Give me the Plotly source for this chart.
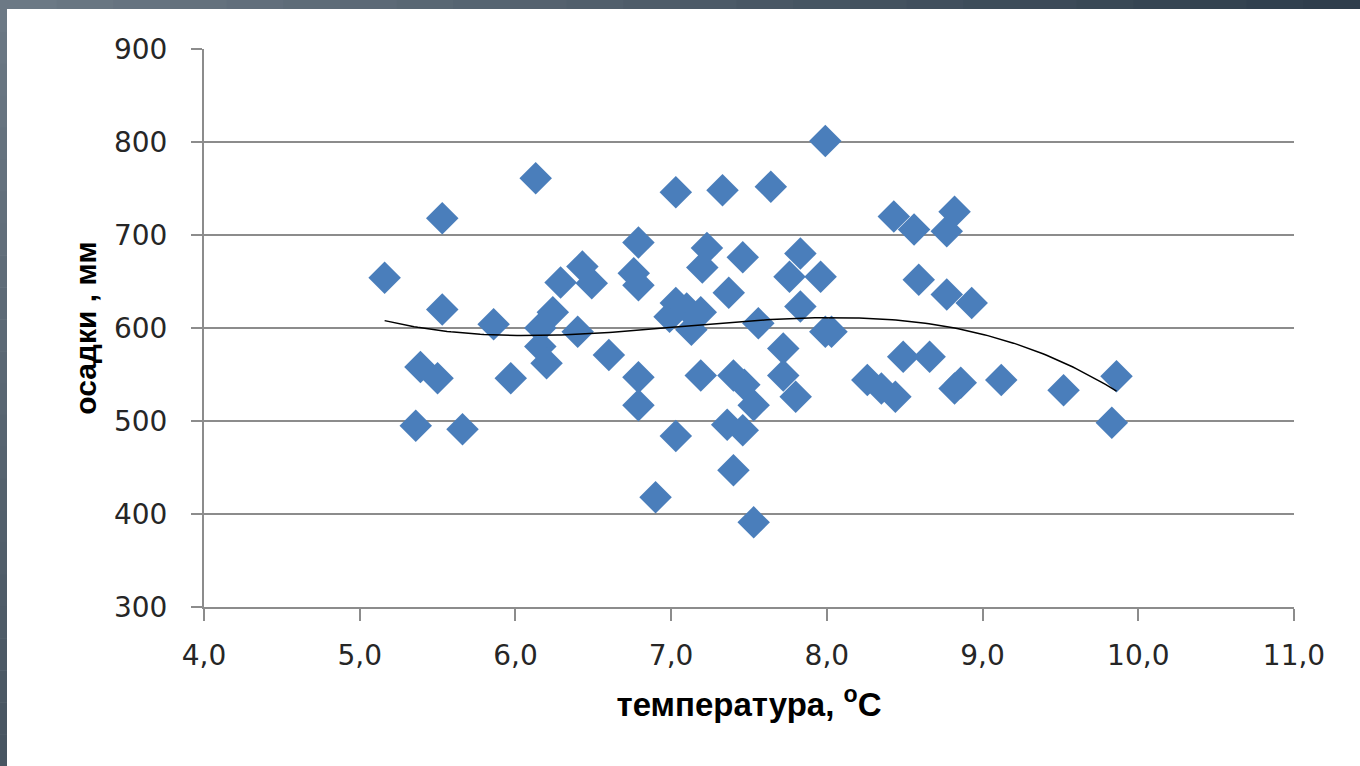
import numpy as np
import plotly.graph_objects as go

# temperature (°C) and precipitation (mm)
temperature = [5.16, 5.36, 5.39, 5.50, 5.53, 5.53, 5.66, 5.86, 5.97, 6.13,
               6.16, 6.16, 6.20, 6.24, 6.29, 6.40, 6.43, 6.49, 6.60, 6.76,
               6.79, 6.79, 6.79, 6.79, 6.90, 6.99, 7.03, 7.03, 7.03, 7.10,
               7.13, 7.19, 7.19, 7.20, 7.23, 7.33, 7.36, 7.37, 7.40, 7.40,
               7.46, 7.46, 7.47, 7.53, 7.53, 7.56, 7.64, 7.72, 7.72, 7.76,
               7.80, 7.83, 7.83, 7.96, 7.99, 7.99, 8.03, 8.26, 8.35, 8.43,
               8.44, 8.49, 8.56, 8.59, 8.66, 8.77, 8.77, 8.82, 8.82, 8.86,
               8.93, 9.12, 9.52, 9.83, 9.86]
precip = [654, 495, 558, 546, 718, 620, 491, 604, 546, 761,
          600, 580, 562, 617, 649, 596, 666, 648, 571, 659,
          692, 646, 547, 517, 418, 612, 627, 746, 484, 621,
          598, 617, 549, 665, 686, 748, 496, 638, 549, 447,
          676, 490, 539, 517, 391, 605, 752, 578, 549, 655,
          526, 680, 623, 655, 801, 596, 596, 544, 535, 720,
          526, 569, 706, 652, 569, 704, 636, 725, 535, 541,
          627, 544, 533, 498, 548]

x_ticks = [4, 5, 6, 7, 8, 9, 10, 11]
x_ticklabels = ["4,0", "5,0", "6,0", "7,0", "8,0", "9,0", "10,0", "11,0"]
y_ticks = [300, 400, 500, 600, 700, 800, 900]

# polynomial trendline (order 3) fitted to the data
coef = np.polyfit(temperature, precip, 3)
tx = np.linspace(min(temperature), max(temperature), 200)
ty = np.polyval(coef, tx)

fig = go.Figure()
fig.add_trace(go.Scatter(
    x=temperature, y=precip, mode="markers",
    marker=dict(symbol="diamond", size=25, color="#4A7EBB",
                line=dict(width=0)),
    showlegend=False, hoverinfo="x+y"))
fig.add_trace(go.Scatter(
    x=tx, y=ty, mode="lines", line=dict(color="#000000", width=1.5),
    showlegend=False, hoverinfo="skip"))

axis_font = dict(family="DejaVu Sans", size=28, color="#262626")
xtitle_font = dict(family="Liberation Sans", size=33, color="#000000")
ytitle_font = dict(family="Liberation Sans", size=30, color="#000000")

fig.update_layout(
    width=1360, height=766,
    margin=dict(l=204, r=66, t=49, b=159),
    paper_bgcolor="white", plot_bgcolor="white",
    font=dict(family="DejaVu Sans"),
    xaxis=dict(
        range=[4, 11], tickvals=x_ticks, ticktext=x_ticklabels,
        showgrid=False, zeroline=False,
        showline=True, linecolor="#8C8C8C", linewidth=2,
        ticks="outside", ticklen=12, tickwidth=2, tickcolor="#8C8C8C",
        tickfont=axis_font, ticklabelstandoff=10,
        title=dict(text="<b>температура, <sup>о</sup>С</b>", font=xtitle_font,
                   standoff=22),
    ),
    yaxis=dict(
        range=[300, 900], tickvals=y_ticks,
        showgrid=True, gridcolor="#8C8C8C", gridwidth=2,
        zeroline=False,
        showline=True, linecolor="#8C8C8C", linewidth=2,
        ticks="outside", ticklen=11, tickwidth=2, tickcolor="#8C8C8C",
        tickfont=axis_font, ticklabelstandoff=18,
        title=dict(text="<b>осадки , мм</b>", font=ytitle_font, standoff=8),
    ),
)

# slide frame: gradient bar at top and along the left edge
n = 24
c0 = np.array([0x6C, 0x79, 0x85])
c1 = np.array([0x2F, 0x3E, 0x4C])
for i in range(n):
    c = c0 + (c1 - c0) * i / (n - 1)
    col = "rgb(%d,%d,%d)" % tuple(c.astype(int))
    fig.add_shape(type="rect", xref="paper", yref="paper",
                  x0=-204 / 1090 + i * (1360 / 1090) / n,
                  x1=-204 / 1090 + (i + 1) * (1360 / 1090) / n + 0.001,
                  y0=1 + 40 / 558, y1=1 + 49 / 558,
                  line=dict(width=0), fillcolor=col, layer="above")
c2 = np.array([0x48, 0x55, 0x61])
for i in range(n):
    c = c0 + (c2 - c0) * i / (n - 1)
    col = "rgb(%d,%d,%d)" % tuple(c.astype(int))
    fig.add_shape(type="rect", xref="paper", yref="paper",
                  x0=-204 / 1090, x1=-197 / 1090,
                  y0=1 + 49 / 558 - (i + 1) * (766 / 558) / n - 0.001,
                  y1=1 + 49 / 558 - i * (766 / 558) / n,
                  line=dict(width=0), fillcolor=col, layer="above")

fig.write_html("out.html",
               config={"displayModeBar": False},
               post_script="document.body.style.margin='0';"
                           "document.body.style.overflow='hidden';")
